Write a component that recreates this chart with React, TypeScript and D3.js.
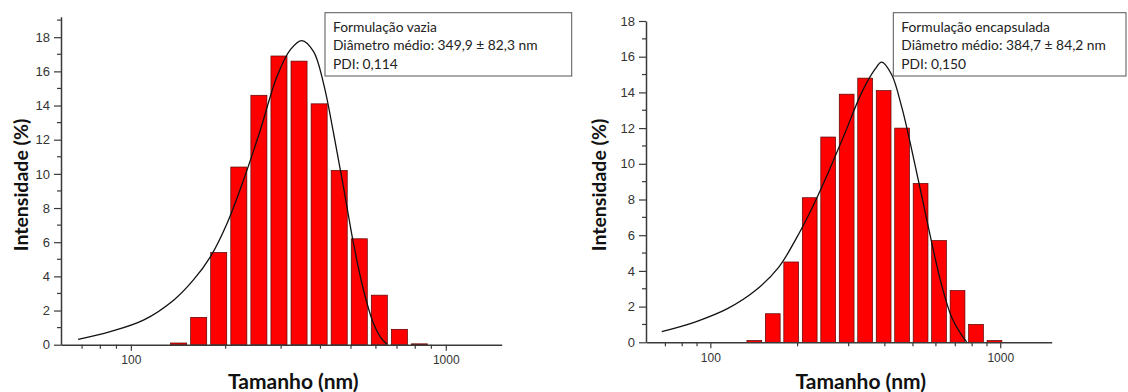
import { axisBottom, axisLeft, curveCatmullRom, line, scaleLinear, scaleLog, select } from "d3";
import { useEffect, useRef } from "react";

// Malvern size bins (nm), shared by both measurements
const binSizes = [141.8, 164.2, 190.1, 220.2, 255.0, 295.3, 342.0, 396.1, 458.7, 531.2, 615.1, 712.4, 825.0, 955.4];

const emptyIntensity = [0.1, 1.6, 5.4, 10.4, 14.6, 16.9, 16.6, 14.1, 10.2, 6.2, 2.9, 0.9, 0.05, 0];
const loadedIntensity = [0.1, 1.6, 4.5, 8.1, 11.5, 13.9, 14.8, 14.1, 12.0, 8.9, 5.7, 2.9, 1.0, 0.1];

// fitted curves
const emptyFitSize = [68, 86, 110, 137, 158, 179, 202, 228, 258, 291, 321, 349, 380, 409, 440, 473, 509, 548, 589, 620, 650];
const emptyFitValue = [0.31, 0.76, 1.45, 2.62, 3.79, 5.16, 7.1, 9.65, 12.6, 15.7, 17.27, 17.8, 17.17, 15.3, 12.4, 9.26, 5.94, 3.2, 1.25, 0.45, 0.03];
const loadedFitSize = [68, 89, 115, 143, 172, 196, 224, 255, 291, 333, 370, 390, 422, 457, 495, 536, 580, 628, 680, 736, 766];
const loadedFitValue = [0.6, 1.15, 1.9, 2.9, 4.2, 5.7, 7.5, 9.5, 11.7, 14.0, 15.3, 15.7, 15.0, 13.2, 10.8, 8.2, 5.6, 3.2, 1.4, 0.4, 0.02];

const xMajorTicks = [100, 1000];
const xMinorTicks = [70, 80, 90, 200, 300, 400, 500, 600, 700, 800, 900];
const yMajorTicks = [0, 2, 4, 6, 8, 10, 12, 14, 16, 18];
const yMinorTicks = [1, 3, 5, 7, 9, 11, 13, 15, 17, 19];

const emptyLegend = ["Formulação vazia", "Diâmetro médio: 349,9 ± 82,3 nm", "PDI: 0,114"];
const loadedLegend = ["Formulação encapsulada", "Diâmetro médio: 384,7 ± 84,2 nm", "PDI: 0,150"];

interface PanelProps {
  sizes: number[];
  values: number[];
  fitSize: number[];
  fitValue: number[];
  legend: string[];
  left: number;
  right: number;
  top: number;
  bottom: number;
  yMax: number;
  legendBox: [number, number, number, number];
  yTitleX: number;
}

const AXIS_COLOR = "#3a3a3a";
const TICK_FONT = "Arial, 'Liberation Sans', sans-serif";
const LABEL_FONT = "Lato, 'Open Sans', sans-serif";

function drawPanel(g: any, p: PanelProps) {
  const x = scaleLog().domain([60, 1505]).range([p.left, p.right]);
  const y = scaleLinear().domain([0, p.yMax]).range([p.bottom, p.top]);
  const step = binSizes[1] / binSizes[0];

  // bars
  g.append("g")
    .selectAll("rect")
    .data(p.sizes.map((s, i) => ({ s, v: p.values[i] })).filter((d) => d.v > 0))
    .join("rect")
    .attr("x", (d: any) => x(d.s) - 0.4 * (x(d.s * step) - x(d.s)))
    .attr("width", (d: any) => 0.8 * (x(d.s * step) - x(d.s)))
    .attr("y", (d: any) => y(d.v))
    .attr("height", (d: any) => Math.max(p.bottom - y(d.v), 0.6))
    .attr("fill", "#ff0000")
    .attr("stroke", "#5a0000")
    .attr("stroke-width", 0.7);

  // fit
  const pts = p.fitSize.map((s, i) => [s, p.fitValue[i]] as [number, number]);
  g.append("path")
    .attr("d", line<[number, number]>().x((d) => x(d[0])).y((d) => y(d[1])).curve(curveCatmullRom.alpha(0.5))(pts))
    .attr("fill", "none")
    .attr("stroke", "#111")
    .attr("stroke-width", 1.3);

  // x axis
  const xAxis = g.append("g").attr("transform", `translate(0,${p.bottom})`);
  xAxis
    .call(axisBottom(x).tickValues(xMajorTicks).tickSize(6).tickSizeOuter(0).tickPadding(5).tickFormat((d: any) => String(d)))
    .call((s: any) => s.select(".domain").attr("stroke", AXIS_COLOR).attr("stroke-width", 1.5))
    .call((s: any) => s.selectAll("line").attr("stroke", AXIS_COLOR).attr("stroke-width", 1.2))
    .call((s: any) => s.selectAll("text").attr("fill", "#333").attr("font-size", 12).attr("font-family", TICK_FONT));
  xAxis
    .selectAll("line.minor")
    .data(xMinorTicks)
    .join("line")
    .attr("class", "minor")
    .attr("x1", (d: number) => x(d))
    .attr("x2", (d: number) => x(d))
    .attr("y1", 0)
    .attr("y2", 4)
    .attr("stroke", AXIS_COLOR)
    .attr("stroke-width", 1.2);

  // y axis
  const yAxis = g.append("g").attr("transform", `translate(${p.left},0)`);
  yAxis
    .call(axisLeft(y).tickValues(yMajorTicks).tickSize(7).tickSizeOuter(0).tickPadding(4))
    .call((s: any) => s.select(".domain").attr("stroke", AXIS_COLOR).attr("stroke-width", 1.5))
    .call((s: any) => s.selectAll("line").attr("stroke", AXIS_COLOR).attr("stroke-width", 1.2))
    .call((s: any) => s.selectAll("text").attr("fill", "#333").attr("font-size", 13).attr("font-family", TICK_FONT));
  yAxis
    .selectAll("line.minor")
    .data(yMinorTicks.filter((v) => v <= p.yMax))
    .join("line")
    .attr("class", "minor")
    .attr("x1", 0)
    .attr("x2", -4)
    .attr("y1", (d: number) => y(d))
    .attr("y2", (d: number) => y(d))
    .attr("stroke", AXIS_COLOR)
    .attr("stroke-width", 1.2);

  // axis titles
  g.append("text")
    .attr("transform", `translate(${p.yTitleX},${185}) rotate(-90)`)
    .attr("text-anchor", "middle")
    .attr("font-family", LABEL_FONT)
    .attr("font-weight", "bold")
    .attr("font-size", 19.5)
    .attr("fill", "#111")
    .text("Intensidade (%)");
  g.append("text")
    .attr("x", (p.left + p.right) / 2 + 12)
    .attr("y", 389)
    .attr("text-anchor", "middle")
    .attr("font-family", LABEL_FONT)
    .attr("font-weight", "bold")
    .attr("font-size", 21)
    .attr("fill", "#111")
    .text("Tamanho (nm)");

  // legend
  const [bx, by, bw, bh] = p.legendBox;
  g.append("rect")
    .attr("x", bx)
    .attr("y", by)
    .attr("width", bw)
    .attr("height", bh)
    .attr("fill", "#fff")
    .attr("stroke", "#555")
    .attr("stroke-width", 1);
  g.append("g")
    .selectAll("text")
    .data(p.legend)
    .join("text")
    .attr("x", bx + 8)
    .attr("y", (_: string, i: number) => by + 19 + i * 18.4)
    .attr("font-family", LABEL_FONT)
    .attr("font-size", 13.8)
    .attr("fill", "#222")
    .text((d: string) => d);
}

export default function App() {
  const svgRef = useRef<SVGSVGElement | null>(null);

  useEffect(() => {
    if (!svgRef.current) return;
    const svg = select(svgRef.current);
    svg.selectAll("*").remove();
    svg.append("rect").attr("width", 1128).attr("height", 392).attr("fill", "#fff");

    drawPanel(svg.append("g"), {
      sizes: binSizes,
      values: emptyIntensity,
      fitSize: emptyFitSize,
      fitValue: emptyFitValue,
      legend: emptyLegend,
      left: 61,
      right: 501.7,
      top: 16.7,
      bottom: 344.7,
      yMax: 19.2,
      legendBox: [325, 12.7, 246.7, 63.3],
      yTitleX: 28,
    });
    drawPanel(svg.append("g"), {
      sizes: binSizes,
      values: loadedIntensity,
      fitSize: loadedFitSize,
      fitValue: loadedFitValue,
      legend: loadedLegend,
      left: 646,
      right: 1051.7,
      top: 21,
      bottom: 342.3,
      yMax: 18,
      legendBox: [893.3, 12.7, 232.7, 63.3],
      yTitleX: 606,
    });
  }, []);

  return (
    <svg
      ref={svgRef}
      width={1128}
      height={392}
      style={{ position: "absolute", left: 0, top: 0 }}
      role="img"
      aria-label="Distribuição de tamanho de partícula"
    />
  );
}
